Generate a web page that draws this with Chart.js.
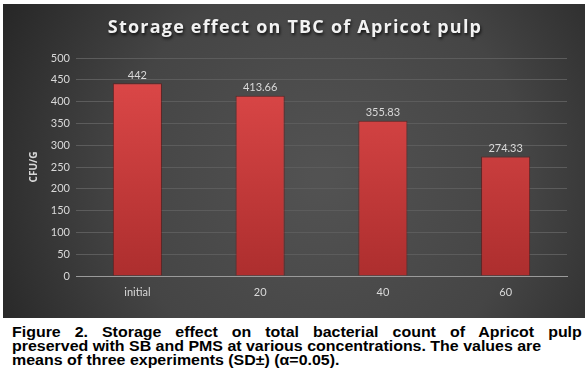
<!DOCTYPE html>
<html>
<head>
<meta charset="utf-8">
<script src="https://cdn.jsdelivr.net/npm/chart.js@4.4.1/dist/chart.umd.min.js"></script>
<style>
  body { margin: 0; background: #fff; width: 588px; height: 388px; position: relative; overflow: hidden; }
  #panel { position: absolute; left: 3px; top: 4px; width: 582px; height: 314px; }
  .cap { position: absolute; left: 12px; font: bold 14.5px "Liberation Sans", Arial, sans-serif; line-height: 14px; color: #000; white-space: nowrap; transform: scaleX(1.1); transform-origin: 0 0; }
  #cap1 { top: 325px; width: 518px; text-align: justify; text-align-last: justify; white-space: normal; }
  #cap2 { top: 339px; }
  #cap3 { top: 353px; }
</style>
</head>
<body>
<div id="panel"><canvas id="tbcChart" width="582" height="314"></canvas></div>
<div class="cap" id="cap1">Figure 2. Storage effect on total bacterial count of Apricot pulp</div>
<div class="cap" id="cap2">preserved with SB and PMS at various concentrations. The values are</div>
<div class="cap" id="cap3">means of three experiments (SD±) (α=0.05).</div>
<script>
const chartTitle = 'Storage effect on TBC of Apricot pulp';
const categories = ['initial', '20', '40', '60'];
const tbcValues = [442, 413.66, 355.83, 274.33];
const yTitle = 'CFU/G';
const yMin = 0, yMax = 500, yStep = 50;

document.addEventListener("DOMContentLoaded", function () {
    const labelColor = '#d9d9d9';

    // dark radial backdrop like the office "style 9" chart
    const backdrop = {
        id: 'backdrop',
        beforeDraw(chart) {
            const ctx = chart.ctx;
            const w = chart.width, h = chart.height;
            const g = ctx.createRadialGradient(w * 0.55, h * 0.55, 10, w * 0.55, h * 0.55, w * 0.62);
            g.addColorStop(0, '#525252');
            g.addColorStop(0.55, '#454545');
            g.addColorStop(1, '#272727');
            ctx.save();
            ctx.fillStyle = g;
            ctx.fillRect(0, 0, w, h);
            ctx.restore();
        }
    };

    const titleDraw = {
        id: 'titleDraw',
        afterDraw(chart) {
            const ctx = chart.ctx;
            ctx.save();
            ctx.font = 'bold 18px "Open Sans", sans-serif';
            ctx.letterSpacing = '1.2px';
            ctx.fillStyle = '#f2f2f2';
            ctx.textAlign = 'center';
            ctx.textBaseline = 'middle';
            ctx.shadowColor = 'rgba(0,0,0,0.75)';
            ctx.shadowBlur = 3;
            ctx.shadowOffsetX = 1;
            ctx.shadowOffsetY = 2;
            ctx.fillText(chartTitle, chart.width / 2 + 1, 24);
            ctx.restore();
        }
    };

    const valueLabels = {
        id: 'valueLabels',
        afterDatasetsDraw(chart) {
            const ctx = chart.ctx;
            const meta = chart.getDatasetMeta(0);
            ctx.save();
            ctx.font = '11px Lato, sans-serif';
            ctx.fillStyle = labelColor;
            ctx.textAlign = 'center';
            ctx.textBaseline = 'middle';
            meta.data.forEach(function (bar, i) {
                ctx.fillText(String(tbcValues[i]), bar.x, bar.y - 8);
            });
            ctx.restore();
        }
    };

    const ctx = document.getElementById('tbcChart').getContext('2d');
    new Chart(ctx, {
        type: 'bar',
        data: {
            labels: categories,
            datasets: [{
                label: yTitle,
                data: tbcValues,
                backgroundColor: function (c) {
                    const area = c.chart.chartArea;
                    if (!area) return '#d24040';
                    const g = c.chart.ctx.createLinearGradient(0, area.top, 0, area.bottom);
                    g.addColorStop(0, '#e04a4a');
                    g.addColorStop(1, '#ad2e2e');
                    return g;
                },
                borderColor: 'rgba(110,20,20,0.7)',
                borderWidth: 1,
                borderSkipped: 'bottom',
                categoryPercentage: 1,
                barPercentage: 0.4
            }]
        },
        options: {
            responsive: false,
            animation: false,
            layout: { padding: { left: 0, right: 18, top: 54, bottom: 0 } },
            plugins: {
                legend: { display: false },
                tooltip: { enabled: false }
            },
            scales: {
                x: {
                    grid: { display: false, drawTicks: false },
                    border: { display: true, color: '#9a9a9a', width: 1 },
                    ticks: { color: labelColor, font: { family: 'Lato', size: 11 }, padding: 10 },
                    afterFit: function (s) { s.height = 42; }
                },
                y: {
                    min: yMin,
                    max: yMax,
                    border: { display: false },
                    grid: {
                        drawTicks: false,
                        color: function (c) { return c.tick.value === 0 ? '#9a9a9a' : '#5c5c5c'; }
                    },
                    ticks: { stepSize: yStep, color: labelColor, font: { family: 'Lato', size: 11 }, padding: 6 },
                    title: {
                        display: true,
                        text: yTitle,
                        color: labelColor,
                        font: { family: 'Open Sans', size: 10, weight: 'bold' },
                        padding: { top: 25, bottom: 0 }
                    },
                    afterFit: function (s) { s.width = 73; }
                }
            }
        },
        plugins: [backdrop, titleDraw, valueLabels]
    });
});
</script>
</body>
</html>
